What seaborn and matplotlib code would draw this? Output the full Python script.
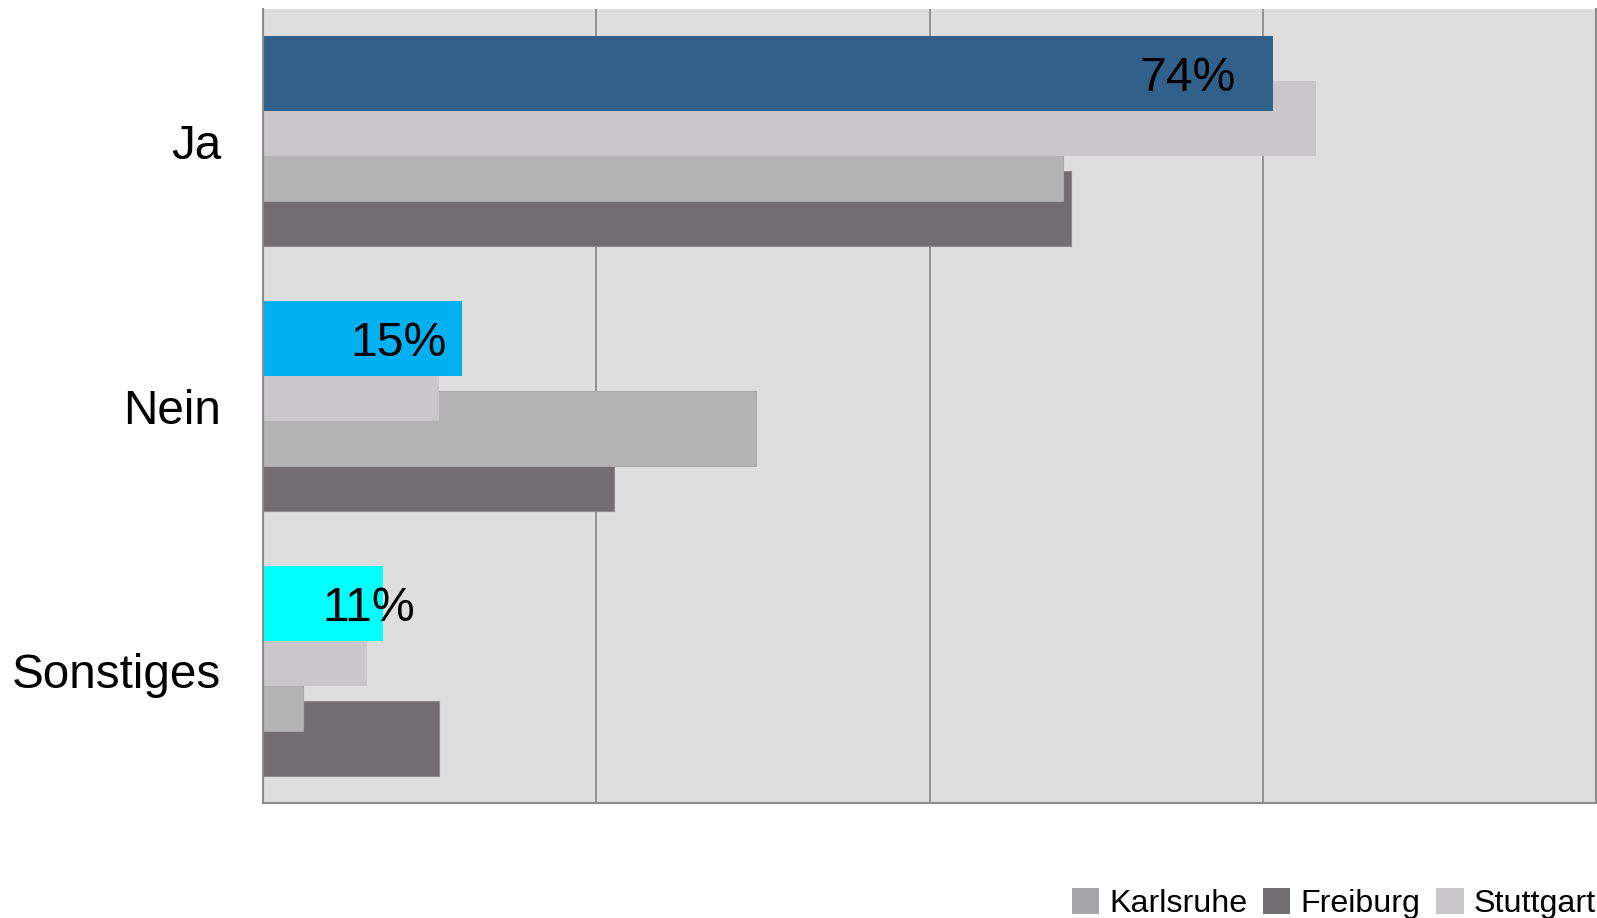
import numpy as np
import matplotlib
matplotlib.use("Agg")
import matplotlib.pyplot as plt
from matplotlib.patches import Patch
import seaborn as sns

# ---------------- data ----------------
categories = ["Ja", "Nein", "Sonstiges"]
highlight_values = [75.8, 14.9, 9.0]
highlight_labels = ["74%", "15%", "11%"]
stuttgart = [79.0, 13.2, 7.8]
karlsruhe = [60.0, 37.0, 3.0]
freiburg = [60.6, 26.3, 13.2]
legend_series = ["Karlsruhe", "Freiburg", "Stuttgart"]

# ---------------- styles ----------------
highlight_colors = ["#31618B", "#00B0F0", "#00FFFF"]
series_colors = {"Stuttgart": "#C9C7CA", "Karlsruhe": "#B3B3B3", "Freiburg": "#726D71"}
series_edges = {"Stuttgart": "none", "Karlsruhe": "#A8A8A8", "Freiburg": "#8E8A8D"}
legend_colors = {"Karlsruhe": "#A7A6A9", "Freiburg": "#726D71", "Stuttgart": "#C9C7CA"}
label_right = [73.0, 13.8, 11.4]

sns.set_style("white")
plt.rcParams["font.family"] = ["Liberation Sans", "DejaVu Sans"]
plt.rcParams["text.color"] = "black"
plt.rcParams["xtick.color"] = "black"
plt.rcParams["ytick.color"] = "black"

W, H = 1597, 918
fig = plt.figure(figsize=(W / 100, H / 100), dpi=100)
ax = fig.add_axes([263 / W, 115 / H, 1333 / W, 794 / H])
ax.set_facecolor("#DEDEDE")

bar_h = 0.283
step = 0.170
base = np.arange(len(categories))

# bottom-most series first so the upper ones overlap them
layers = [("Freiburg", freiburg, 1.5), ("Karlsruhe", karlsruhe, 0.5), ("Stuttgart", stuttgart, -0.5)]
for name, vals, k in layers:
    sns.barplot(x=vals, y=base + k * step, orient="y", native_scale=True,
                width=bar_h, color=series_colors[name], saturation=1,
                errorbar=None, edgecolor=series_edges[name], linewidth=0.8, ax=ax)

hl_pos = base - 1.5 * step
sns.barplot(x=highlight_values, y=hl_pos, hue=categories, palette=highlight_colors,
            orient="y", native_scale=True, width=bar_h, dodge=False, saturation=1,
            legend=False, errorbar=None, linewidth=0, ax=ax)

for i, lab in enumerate(highlight_labels):
    ax.text(label_right[i], hl_pos[i], lab, ha="right", va="center_baseline",
            fontsize=34.7, color="black")

ax.set_xlim(0, 100)
ax.set_ylim(2.5, -0.5)
ax.set_xticks([25, 50, 75])
ax.set_xticklabels([])
ax.tick_params(axis="x", length=0)
ax.grid(axis="x", color="#8C8C8C", linewidth=1.3)
ax.grid(axis="y", visible=False)
ax.set_axisbelow(True)
ax.set_yticks(base)
ax.set_yticklabels(categories, fontsize=34.3, color="black")
ax.tick_params(axis="y", length=0, pad=30)
ax.set_xlabel("")
ax.set_ylabel("")
ax.spines["top"].set_visible(False)
for s in ["left", "bottom", "right"]:
    ax.spines[s].set_visible(True)
    ax.spines[s].set_color("#8C8C8C")
    ax.spines[s].set_linewidth(1.5)

handles = [Patch(facecolor=legend_colors[n], edgecolor="none", label=n) for n in legend_series]
fig.legend(handles=handles, loc="center right", bbox_to_anchor=(1596 / W, 1 - 903.5 / H),
           ncol=3, frameon=False, fontsize=23.2, handlelength=0.84, handleheight=0.88,
           handletextpad=0.32, columnspacing=0.5, borderpad=0, borderaxespad=0,
           labelcolor="black")

fig.savefig("out.png", dpi=100)
